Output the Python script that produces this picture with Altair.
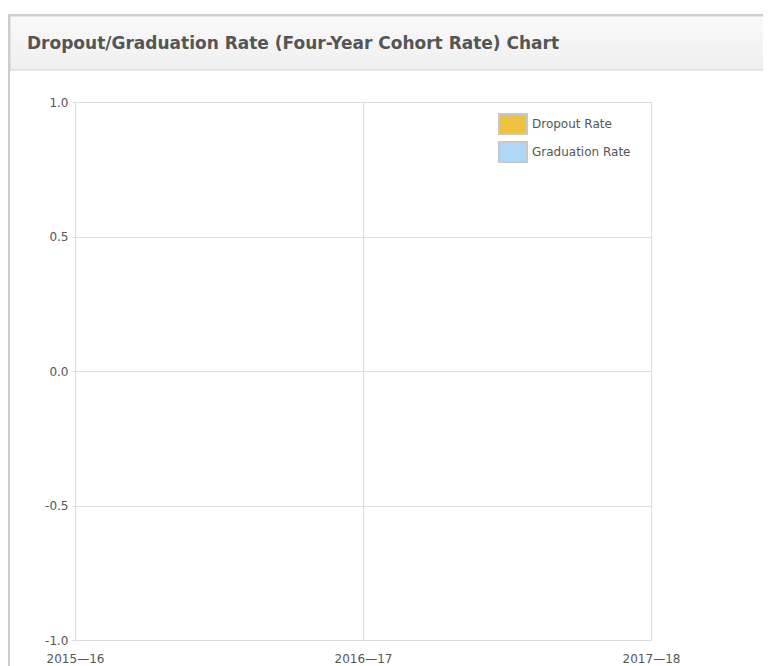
import altair as alt
import pandas as pd

# ---- data (the reference chart shows no plotted values) ----
years = ["2015—16", "2016—17", "2017—18"]
series_names = ["Dropout Rate", "Graduation Rate"]
dropout_rate = [None, None, None]
graduation_rate = [None, None, None]
series_colors = ["#EDC240", "#AFD8F8"]
y_ticks = [-1.0, -0.5, 0.0, 0.5, 1.0]
title_text = "Dropout/Graduation Rate (Four-Year Cohort Rate) Chart"

rows = []
for name, vals in zip(series_names, [dropout_rate, graduation_rate]):
    for yr, v in zip(years, vals):
        rows.append({"year": yr, "series": name, "rate": v})
df = pd.DataFrame(rows)

FONT = "DejaVu Sans"
GRID = "#dcdcdc"
TXT = "#555555"

one = pd.DataFrame({"t": [title_text]})

panel = alt.Chart(one).mark_rect(
    fillOpacity=0, stroke="#cccccc", strokeWidth=2
).encode(
    x=alt.value(-66), x2=alt.value(720), y=alt.value(-87), y2=alt.value(600)
)

header = alt.Chart(one).mark_rect(
    fill=alt.Gradient(
        gradient="linear",
        stops=[alt.GradientStop(color="#fafafa", offset=0),
               alt.GradientStop(color="#efefef", offset=1)],
        x1=0, x2=0, y1=0, y2=1,
    ),
    stroke="#d0d0d0", strokeWidth=1,
).encode(
    x=alt.value(-65), x2=alt.value(720), y=alt.value(-86), y2=alt.value(-32)
)

title = alt.Chart(one).mark_text(
    align="left", baseline="middle", font=FONT, fontSize=17,
    fontWeight="bold", color=TXT
).encode(
    x=alt.value(-48), y=alt.value(-58), text="t:N"
)

data_layer = alt.Chart(df).mark_area(opacity=1).encode(
    x=alt.X(
        "year:O",
        scale=alt.Scale(type="point", domain=years, padding=0),
        axis=alt.Axis(
            title=None, grid=True, gridColor=GRID, domainColor=GRID,
            ticks=False, labelAngle=0, labelFont=FONT, labelFontSize=12,
            labelColor=TXT, labelPadding=13,
        ),
    ),
    y=alt.Y(
        "rate:Q",
        scale=alt.Scale(domain=[-1, 1], nice=False, zero=False),
        axis=alt.Axis(
            title=None, values=y_ticks, grid=True,
            labelExpr="replace(format(datum.value, '.1f'), '\u2212', '-')",
            gridColor=GRID, domainColor=GRID, tickColor=GRID, tickSize=3,
            labelPadding=4, labelFont=FONT, labelFontSize=12, labelColor=TXT,
        ),
    ),
    color=alt.Color(
        "series:N",
        scale=alt.Scale(domain=series_names, range=series_colors),
        legend=alt.Legend(
            title=None, orient="none", legendX=427, legendY=11,
            symbolType="M-1.4,-1L1.4,-1L1.4,1L-1.4,1Z", symbolSize=400,
            symbolStrokeColor="#c8c8c8", symbolStrokeWidth=2,
            symbolOpacity=1, labelOffset=8, rowPadding=0, padding=0,
            labelFont=FONT, labelFontSize=12, labelColor=TXT,
        ),
    ),
)

chart = alt.layer(panel, header, data_layer, title).properties(
    width=576,
    height=538,
    autosize=alt.AutoSizeParams(type="none"),
    padding={"left": 67, "top": 94, "right": 112, "bottom": 26},
).configure_view(stroke=GRID)

chart.save("out.html", embed_options={"renderer": "svg", "actions": False})
